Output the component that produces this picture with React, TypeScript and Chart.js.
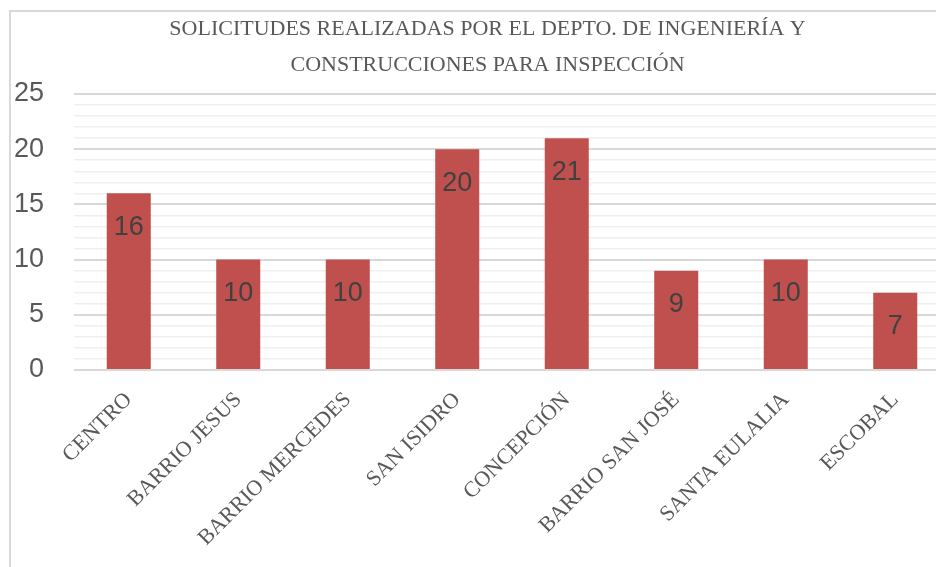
import React, { useEffect, useRef } from "react";
import { Chart, registerables } from "chart.js";

Chart.register(...registerables);

const categories = [
  "CENTRO",
  "BARRIO JESUS",
  "BARRIO MERCEDES",
  "SAN ISIDRO",
  "CONCEPCIÓN",
  "BARRIO SAN JOSÉ",
  "SANTA EULALIA",
  "ESCOBAL",
];
const values = [16, 10, 10, 20, 21, 9, 10, 7];
const titleLines = [
  "SOLICITUDES REALIZADAS POR EL DEPTO. DE INGENIERÍA Y",
  "CONSTRUCCIONES PARA INSPECCIÓN",
];
const yMin = 0;
const yMax = 25;
const yMajorStep = 5;

const BAR_COLOR = "#C0504D";
const TEXT_GRAY = "#595959";

const dataLabelPlugin = {
  id: "insideLabels",
  afterDatasetsDraw(chart: any) {
    const ctx = chart.ctx;
    const meta = chart.getDatasetMeta(0);
    ctx.save();
    ctx.font = "27px 'Liberation Sans', Arial, sans-serif";
    ctx.fillStyle = "#404040";
    ctx.textAlign = "center";
    ctx.textBaseline = "middle";
    meta.data.forEach((bar: any, i: number) => {
      ctx.fillText(String(values[i]), bar.x, bar.y + 34);
    });
    ctx.restore();
  },
};

// Title drawn centred on the full chart frame (which extends past the view)
const titlePlugin = {
  id: "frameTitle",
  afterDraw(chart: any) {
    const ctx = chart.ctx;
    ctx.save();
    ctx.font = "22px 'Liberation Serif', serif";
    ctx.fillStyle = TEXT_GRAY;
    ctx.textAlign = "center";
    ctx.textBaseline = "middle";
    const cx = (chart.width - 13) / 2;
    titleLines.forEach((line, i) => {
      ctx.fillText(line, cx, 17 + i * 36);
    });
    ctx.restore();
  },
};

export default function App() {
  const ref = useRef<HTMLCanvasElement | null>(null);

  useEffect(() => {
    if (!ref.current) return;
    const chart = new Chart(ref.current, {
      type: "bar",
      data: {
        labels: categories,
        datasets: [
          {
            data: values,
            backgroundColor: BAR_COLOR,
            borderWidth: 0,
            barPercentage: 0.402,
            categoryPercentage: 1,
          },
        ],
      },
      options: {
        animation: false,
        responsive: false,
        devicePixelRatio: 1,
        layout: { padding: { left: 0, right: 27, top: 82, bottom: 0 } },
        plugins: {
          legend: { display: false },
          tooltip: { enabled: false },
          title: { display: false },
        },
        scales: {
          x: {
            grid: { display: false },
            border: { display: false },
            ticks: {
              color: TEXT_GRAY,
              font: { family: "'Liberation Serif', serif", size: 22 },
              minRotation: 45,
              maxRotation: 45,
              autoSkip: false,
              padding: 9,
            },
            afterFit(scale: any) {
              scale.height = 600 - 358;
            },
          },
          y: {
            min: yMin,
            max: yMax,
            border: { display: false },
            grid: {
              drawTicks: false,
              color: (c: any) => (c.tick && c.tick.value % yMajorStep === 0 ? "#d9d9d9" : "#efefef"),
              lineWidth: (c: any) => (c.tick && c.tick.value % yMajorStep === 0 ? 2 : 1.5),
            },
            ticks: {
              stepSize: 1,
              autoSkip: false,
              padding: 30,
              color: TEXT_GRAY,
              font: { family: "'Liberation Sans', Arial, sans-serif", size: 27 },
              callback: (v: any) => (Number(v) % yMajorStep === 0 ? String(v) : ""),
            },
            afterFit(scale: any) {
              scale.width = 63;
            },
          },
        },
      },
      plugins: [dataLabelPlugin, titlePlugin],
    });
    return () => chart.destroy();
  }, []);

  return (
    <div
      style={{
        position: "fixed",
        left: 0,
        top: 0,
        width: 936,
        height: 567,
        overflow: "hidden",
        background: "#fff",
      }}
    >
      <div
        style={{
          position: "absolute",
          left: 9,
          top: 10,
          width: 975,
          height: 620,
          border: "2px solid #d9d9d9",
          boxSizing: "border-box",
        }}
      />
      <canvas
        ref={ref}
        width={966}
        height={600}
        style={{ position: "absolute", left: 11, top: 12, width: 966, height: 600 }}
      />
    </div>
  );
}
